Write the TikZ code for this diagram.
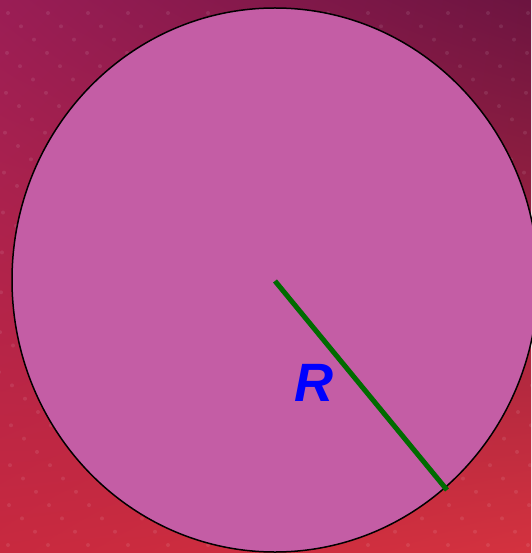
\documentclass[tikz,border=0pt]{standalone}
\usepackage{fontspec}
\setsansfont{Liberation Sans}
\usepackage{tikz}
\usetikzlibrary{shapes.geometric,shadings,calc}
\definecolor{bgtl}{HTML}{9A1D55}
\definecolor{bgtr}{HTML}{6C1440}
\definecolor{bgbl}{HTML}{C8293F}
\definecolor{bgbr}{HTML}{D4323F}
\definecolor{discpink}{HTML}{C45DA5}
\definecolor{radgreen}{HTML}{006B00}
\definecolor{lblblue}{HTML}{0000FF}
\tikzset{
  disc/.style={ellipse,draw=black,line width=1.5pt,fill=discpink,
    minimum width=526pt,minimum height=544pt,inner sep=0pt},
  radius line/.style={draw=radgreen,line width=5pt},
  lbl/.style={font=\sffamily\bfseries\itshape\fontsize{54}{54}\selectfont,text=lblblue,inner sep=0pt},
  dot/.style={fill=white,opacity=0.09},
}
\begin{document}
\begin{tikzpicture}[x=1pt,y=-1pt]
  % backdrop
  \shade[upper left=bgtl,upper right=bgtr,lower left=bgbl,lower right=bgbr]
    (0,0) rectangle (531,553);
  \useasboundingbox (0,0) rectangle (531,553);
  \foreach \r in {0,...,41}{
    \foreach \c in {0,...,14}{
      \fill[dot] ({mod(\r*13,40)+\c*40-32},{\r*13.3+13}) circle (2pt);
    }
  }
  % circle and radius
  \node[disc] (circ) at (275,280) {};
  \coordinate (centre) at (275,281);
  \coordinate (rim) at (447,490);
  \draw[radius line] (centre) -- (rim);
  \node[lbl] (rlabel) at (314,383) {R};
\end{tikzpicture}
\end{document}
